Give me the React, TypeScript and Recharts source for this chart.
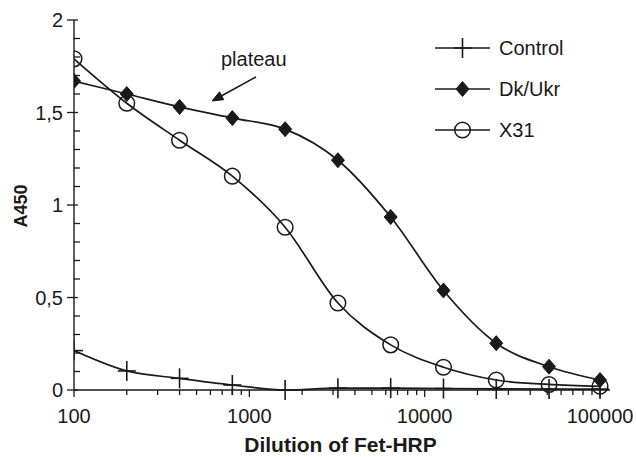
import React from "react";
import { LineChart, Line, XAxis, YAxis, Customized } from "recharts";

const dilutions = [100, 200, 400, 800, 1600, 3200, 6400, 12800, 25600, 51200, 100000];
const controlValues = [0.213, 0.103, 0.063, 0.027, 0.0, 0.01, 0.01, 0.008, 0.006, 0.005, 0.005];
const dkUkrValues = [1.67, 1.6, 1.53, 1.47, 1.41, 1.242, 0.935, 0.538, 0.253, 0.126, 0.054];
const x31Values = [1.79, 1.55, 1.35, 1.156, 0.88, 0.47, 0.244, 0.123, 0.054, 0.03, 0.02];

const xTicks = [
  100, 200, 300, 400, 500, 600, 700, 800, 900,
  1000, 2000, 3000, 4000, 5000, 6000, 7000, 8000, 9000,
  10000, 20000, 30000, 40000, 50000, 60000, 70000, 80000, 90000,
  100000,
];
const xMajor = [100, 1000, 10000, 100000];
const yTicks = [0, 0.1, 0.2, 0.3, 0.4, 0.5, 0.6, 0.7, 0.8, 0.9, 1, 1.1, 1.2, 1.3, 1.4, 1.5, 1.6, 1.7, 1.8, 1.9, 2];
const yMajor = [0, 0.5, 1, 1.5, 2];
const yMajorLabels = ["0", "0,5", "1", "1,5", "2"];

const seriesNames = ["Control", "Dk/Ukr", "X31"];

const data = dilutions.map((d, i) => ({
  dilution: d,
  control: controlValues[i],
  dkukr: dkUkrValues[i],
  x31: x31Values[i],
}));

const FONT = "'Liberation Sans', Arial, Helvetica, sans-serif";
const INK = "#1a1a1a";

const PlusMark = ({ cx, cy }: any) => (
  <g>
    <line x1={cx - 9} y1={cy} x2={cx + 9} y2={cy} stroke={INK} strokeWidth={1.6} />
    <line x1={cx} y1={cy - 10} x2={cx} y2={cy + 10} stroke={INK} strokeWidth={1.6} />
  </g>
);
const DiamondMark = ({ cx, cy }: any) => (
  <path d={`M${cx},${cy - 7.5} L${cx + 6.5},${cy} L${cx},${cy + 7.5} L${cx - 6.5},${cy} Z`} fill={INK} stroke={INK} strokeWidth={1} />
);
const CircleMark = ({ cx, cy }: any) => (
  <circle cx={cx} cy={cy} r={7.8} fill="none" stroke={INK} strokeWidth={1.5} />
);

const XTick = (props: any) => {
  const { x, y, payload } = props;
  const v = payload.value;
  const major = xMajor.includes(v);
  return (
    <g>
      <line x1={x} y1={y} x2={x} y2={y + (major ? 7 : 5)} stroke={INK} strokeWidth={1.3} />
      {major && (
        <text x={x} y={y + 33} textAnchor="middle" fontSize={20} fontFamily={FONT} fill={INK}>
          {String(v)}
        </text>
      )}
    </g>
  );
};

const YTick = (props: any) => {
  const { x, y, payload } = props;
  const v = payload.value;
  const idx = yMajor.findIndex((m) => Math.abs(m - v) < 1e-9);
  const major = idx >= 0;
  return (
    <g>
      {major ? (
        <line x1={x - 7} y1={y} x2={x + 4} y2={y} stroke={INK} strokeWidth={1.3} />
      ) : (
        <line x1={x} y1={y} x2={x + 6} y2={y} stroke={INK} strokeWidth={1.3} />
      )}
      {major && (
        <text x={x - 11} y={y + 7} textAnchor="end" fontSize={20} fontFamily={FONT} fill={INK}>
          {yMajorLabels[idx]}
        </text>
      )}
    </g>
  );
};

const markers = [PlusMark, DiamondMark, CircleMark];

const Annotations = () => {
  const tipX = 212, tipY = 101;
  const sx = 256, sy = 77;
  const dx = sx - tipX, dy = sy - tipY;
  const len = Math.sqrt(dx * dx + dy * dy);
  const ux = dx / len, uy = dy / len;
  const hl = 11, hw = 4.5;
  const bx = tipX + ux * hl, by = tipY + uy * hl;
  const p1x = bx - uy * hw, p1y = by + ux * hw;
  const p2x = bx + uy * hw, p2y = by - ux * hw;
  return (
    <g>
      {seriesNames.map((name, i) => {
        const cy = 48 + i * 41;
        const M = markers[i];
        return (
          <g key={name}>
            <line x1={435} y1={cy} x2={490} y2={cy} stroke={INK} strokeWidth={1.5} />
            <M cx={462.5} cy={cy} />
            <text x={499} y={cy + 7} fontSize={20} fontFamily={FONT} fill={INK}>
              {name}
            </text>
          </g>
        );
      })}
      <text x={221} y={66} fontSize={20} fontFamily={FONT} fill={INK}>plateau</text>
      <line x1={sx} y1={sy} x2={bx} y2={by} stroke={INK} strokeWidth={1.5} />
      <path d={`M${tipX},${tipY} L${p1x},${p1y} L${p2x},${p2y} Z`} fill={INK} stroke={INK} strokeWidth={1} />
      <text
        x={0}
        y={0}
        transform="translate(27,206) rotate(-90)"
        textAnchor="middle"
        fontSize={18}
        fontWeight="bold"
        fontFamily={FONT}
        fill={INK}
      >
        A450
      </text>
      <text x={340.5} y={452} textAnchor="middle" fontSize={21} fontWeight="bold" fontFamily={FONT} fill={INK}>
        Dilution of Fet-HRP
      </text>
    </g>
  );
};

export default function App() {
  return (
    <div style={{ position: "absolute", left: 0, top: 0, width: 636, height: 457, background: "#fff" }}>
      <LineChart width={636} height={457} data={data} margin={{ top: 20, right: 26, bottom: 0, left: 0 }}>
        <XAxis
          dataKey="dilution"
          type="number"
          scale="log"
          domain={[100, 114000]}
          allowDataOverflow
          ticks={xTicks}
          interval={0}
          tickLine={false}
          tickSize={0}
          tickMargin={0}
          height={67}
          axisLine={{ stroke: INK, strokeWidth: 1.4 }}
          tick={<XTick />}
        />
        <YAxis
          type="number"
          domain={[0, 2]}
          ticks={yTicks}
          interval={0}
          tickLine={false}
          tickSize={0}
          tickMargin={0}
          width={74}
          axisLine={{ stroke: INK, strokeWidth: 1.4 }}
          tick={<YTick />}
        />
        <Line
          dataKey="control"
          type="monotone"
          stroke={INK}
          strokeWidth={1.7}
          isAnimationActive={false}
          dot={(p: any) => <PlusMark key={`c${p.index}`} cx={p.cx} cy={p.cy} />}
          activeDot={false}
        />
        <Line
          dataKey="dkukr"
          type="monotone"
          stroke={INK}
          strokeWidth={1.7}
          isAnimationActive={false}
          dot={(p: any) => <DiamondMark key={`d${p.index}`} cx={p.cx} cy={p.cy} />}
          activeDot={false}
        />
        <Line
          dataKey="x31"
          type="monotone"
          stroke={INK}
          strokeWidth={1.7}
          isAnimationActive={false}
          dot={(p: any) => <CircleMark key={`x${p.index}`} cx={p.cx} cy={p.cy} />}
          activeDot={false}
        />
        <Customized component={<Annotations />} />
      </LineChart>
    </div>
  );
}
